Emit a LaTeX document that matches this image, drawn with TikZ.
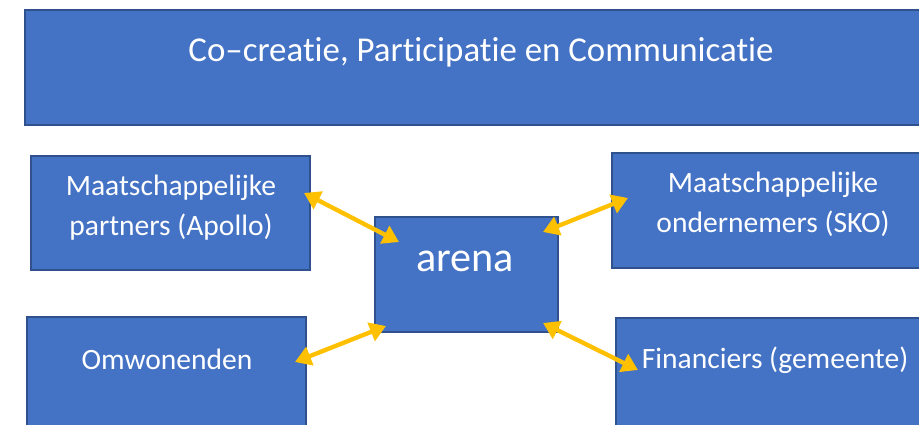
\documentclass[tikz,border=0pt]{standalone}
\usepackage{fontspec}
\setmainfont{Carlito}[Ligatures=NoCommon]
\usetikzlibrary{arrows.meta,positioning}
\definecolor{boxblue}{HTML}{4472C4}
\definecolor{boxline}{HTML}{2F528F}
\definecolor{arrowgold}{HTML}{FFC000}

\begin{document}
\begin{tikzpicture}[x=0.025cm, y=-0.025cm,
    box/.style={rectangle, draw=boxline, fill=boxblue, line width=1pt, inner sep=0pt},
    lbl/.style={text=white, anchor=base, align=center, inner sep=0pt,
      font=\fontsize{21}{29}\selectfont},
    link/.style={<->, >={Triangle[length=0.4cm,width=0.48cm]}, draw=arrowgold,
      line width=3.1pt}]
\clip (0,0) rectangle (919,425);
\fill[white] (0,0) rectangle (919,425);
% boxes
\node[box, minimum width=22.75cm, minimum height=2.875cm] (banner) at (480,67.5) {};
\node[box, minimum width=6.975cm, minimum height=2.85cm] (partners) at (170.5,213) {};
\node[box, minimum width=4.575cm, minimum height=2.875cm] (arena) at (466.5,274.5) {};
\node[box, minimum width=6.975cm, minimum height=3.075cm] (omw) at (166.5,378.5) {};
\node[box, minimum width=8.075cm, minimum height=2.875cm] (sko) at (773.5,210.5) {};
\node[box, minimum width=7.975cm, minimum height=3.05cm] (fin) at (775.5,379) {};
% texts (base = last line)
\node[lbl, font=\fontsize{24.8}{30}\selectfont] (bannertxt) at (481,62)
  {Co–creatie, Participatie en Communicatie};
\node[lbl] (partnerstxt) at (171,236) {Maatschappelijke\\partners (Apollo)};
\node[lbl, font=\fontsize{30}{36}\selectfont] (arenatxt) at (465,272) {arena};
\node[lbl] (omwtxt) at (167,369) {Omwonenden};
\node[lbl] (skotxt) at (773,233) {Maatschappelijke\\ondernemers (SKO)};
\node[lbl] (fintxt) at (775,368) {Financiers (gemeente)};
% arrow ends
\coordinate (p1) at (304,193);
\coordinate (q1) at (399,242);
\coordinate (p2) at (543,232);
\coordinate (q2) at (628,198);
\coordinate (p3) at (295,362);
\coordinate (q3) at (386,326);
\coordinate (p4) at (543,323);
\coordinate (q4) at (638,370);
\draw[link] (p1) -- (q1);
\draw[link] (p2) -- (q2);
\draw[link] (p3) -- (q3);
\draw[link] (p4) -- (q4);
\end{tikzpicture}
\end{document}
